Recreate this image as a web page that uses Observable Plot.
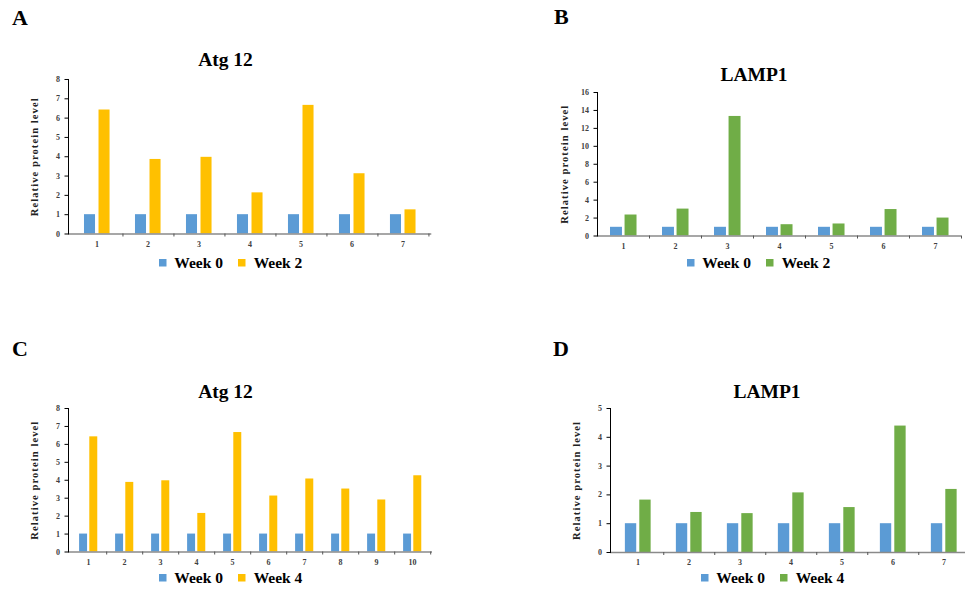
<!DOCTYPE html>
<html><head><meta charset="utf-8">
<script src="https://cdn.jsdelivr.net/npm/d3@7"></script>
<script src="https://cdn.jsdelivr.net/npm/@observablehq/plot@0.6"></script>
<style>
body{margin:0;background:#fff;}
#root{position:relative;width:965px;height:589px;overflow:hidden;background:#fff;font-family:"Liberation Serif","Times New Roman",serif;font-weight:bold;color:#000;}
.abs{position:absolute;}
.letter{font-size:22px;line-height:1;}
.title{font-size:19.5px;line-height:1;transform:translateX(-50%);white-space:nowrap;}
.leg, .leg *{font-family:"Liberation Serif","Times New Roman",serif !important;font-weight:bold !important;font-size:15.5px !important;color:#000 !important;}
</style></head>
<body><div id="root"></div>
<script>
// ---- data ----
const seriesA = ["Week 0", "Week 2"];
const seriesC = ["Week 0", "Week 4"];
const samplesA = ["1","2","3","4","5","6","7"];
const atg12Week0A = [1,1,1,1,1,1,1];
const atg12Week2 = [6.42,3.86,3.97,2.13,6.66,3.12,1.25];
const samplesB = ["1","2","3","4","5","6","7"];
const lamp1Week0B = [0.97,0.97,0.97,0.97,0.97,0.97,0.97];
const lamp1Week2 = [2.34,3.0,13.33,1.26,1.34,2.95,2.0];
const samplesC = ["1","2","3","4","5","6","7","8","9","10"];
const atg12Week0C = [1,1,1,1,1,1,1,1,1,1];
const atg12Week4 = [6.42,3.88,3.97,2.15,6.66,3.12,4.07,3.51,2.9,4.25];
const samplesD = ["1","2","3","4","5","6","7"];
const lamp1Week0D = [1,1,1,1,1,1,1];
const lamp1Week4 = [1.82,1.39,1.35,2.07,1.56,4.39,2.19];
const yTicksA = [0,1,2,3,4,5,6,7,8];
const yTicksB = [0,2,4,6,8,10,12,14,16];
const yTicksC = [0,1,2,3,4,5,6,7,8];
const yTicksD = [0,1,2,3,4,5];
const yLabel = "Relative protein level";

const BLUE = "#5B9BD5", YELLOW = "#FFC000", GREEN = "#70AD47";
const root = document.getElementById("root");

function addDiv(cls, text, left, top) {
  const d = document.createElement("div");
  d.className = "abs " + cls;
  d.textContent = text;
  d.style.left = left + "px";
  d.style.top = top + "px";
  root.appendChild(d);
  return d;
}

function panel(cfg) {
  const {cats, w0, w1, names, color, yTicks, left, top, mL, mT, plotH, step, labelOffset} = cfg;
  const data = cats.map((c, i) => ({cat: c, w0: w0[i], w1: w1[i]}));
  const mR = 10, mB = 25;
  const W = mL + step * cats.length + mR;
  const H = mT + plotH + mB;
  const chart = Plot.plot({
    width: W, height: H,
    marginLeft: mL, marginTop: mT, marginRight: mR, marginBottom: mB,
    style: {background: "transparent", fontFamily: "Liberation Serif, serif", fontWeight: "bold", fontSize: "8px", color: "#404040", overflow: "visible"},
    x: {domain: cats, padding: 0},
    y: {domain: [yTicks[0], yTicks[yTicks.length - 1]]},
    marks: [
      Plot.barY(data, {x: "cat", y: "w0", fill: BLUE, insetLeft: 0.25 * step, insetRight: 0.52 * step}),
      Plot.barY(data, {x: "cat", y: "w1", fill: color, insetLeft: 0.53 * step, insetRight: 0.24 * step}),
      Plot.ruleY([0], {stroke: "#8a8a8a", strokeWidth: 1.6}),
      Plot.frame({anchor: "left", stroke: "#000", strokeWidth: 1}),
      Plot.axisY({ticks: yTicks, tickSize: 3.5, tickPadding: 5, tickFormat: d => String(d), label: null, stroke: "#000"}),
      Plot.axisY({ticks: [], label: yLabel, labelAnchor: "center", labelArrow: "none", labelOffset: labelOffset, fontSize: 10.5, fill: "#222"}),
      Plot.axisX({tickSize: 0, tickPadding: 7, label: null}),
      Plot.axisX({tickSize: 3, tickFormat: () => "", dx: step / 2, label: null, stroke: "#555"})
    ]
  });
  // stretch the y-axis title along its length as in the source figure
  chart.querySelectorAll('g[aria-label="y-axis label"] text').forEach(t => {
    t.style.letterSpacing = "1.1px";
    t.style.fontFamily = "Liberation Serif, serif";
    t.style.fontWeight = "bold";
  });
  chart.style.position = "absolute";
  chart.style.left = left + "px";
  chart.style.top = top + "px";
  root.appendChild(chart);

  const leg = Plot.legend({color: {domain: names, range: [BLUE, color]}, legend: "swatches", swatchSize: 7.5});
  leg.style.margin = "0";
  const wrap = document.createElement("div");
  wrap.className = "abs leg";
  wrap.style.left = cfg.legLeft + "px";
  wrap.style.top = cfg.legTop + "px";
  wrap.appendChild(leg);
  root.appendChild(wrap);
}

// Panel letters and titles
addDiv("letter", "A", 12, 6.6);
addDiv("letter", "B", 554, 5.6);
addDiv("letter", "C", 12, 337.6);
addDiv("letter", "D", 553, 337.6);
addDiv("title", "Atg 12", 225.5, 49.7);
addDiv("title", "LAMP1", 754, 65.4);
addDiv("title", "Atg 12", 225.5, 382);
addDiv("title", "LAMP1", 767, 382);

panel({cats: samplesA, w0: atg12Week0A, w1: atg12Week2, names: seriesA, color: YELLOW, yTicks: yTicksA,
  left: 0, top: 70, mL: 68, mT: 9, plotH: 154.5, step: 51.9, labelOffset: 38, legLeft: 159, legTop: 246.3});
panel({cats: samplesB, w0: lamp1Week0B, w1: lamp1Week2, names: seriesA, color: GREEN, yTicks: yTicksB,
  left: 480, top: 80, mL: 117, mT: 12, plotH: 143.5, step: 52, labelOffset: 37, legLeft: 687, legTop: 246.3});
panel({cats: samplesC, w0: atg12Week0C, w1: atg12Week4, names: seriesC, color: YELLOW, yTicks: yTicksC,
  left: 0, top: 398, mL: 68, mT: 10, plotH: 143.5, step: 36.4, labelOffset: 38, legLeft: 159, legTop: 561.3});
panel({cats: samplesD, w0: lamp1Week0D, w1: lamp1Week4, names: seriesC, color: GREEN, yTicks: yTicksD,
  left: 480, top: 398, mL: 130, mT: 10, plotH: 144, step: 51.5, labelOffset: 38, legLeft: 701, legTop: 561.3});
</script>
</body></html>
